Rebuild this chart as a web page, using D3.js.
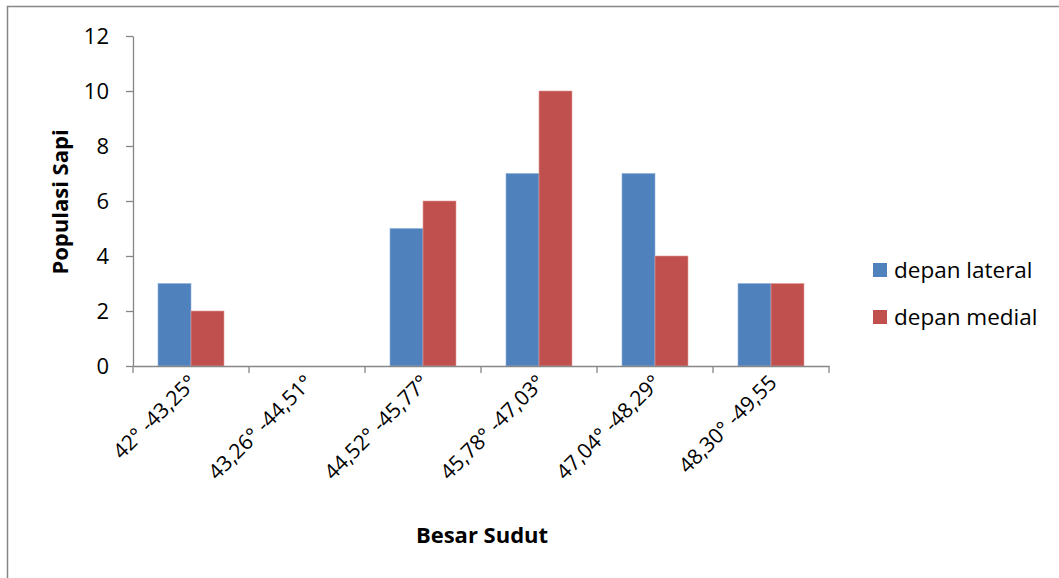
<!DOCTYPE html>
<html><head><meta charset="utf-8">
<script src="https://cdn.jsdelivr.net/npm/d3@7"></script>
<style>body{margin:0;background:#fff}svg{display:block}text{font-family:"Open Sans",Lato,sans-serif;fill:#000}</style>
</head><body>
<script>
const categories = ["42° -43,25°", "43,26° -44,51°", "44,52° -45,77°", "45,78° -47,03°", "47,04° -48,29°", "48,30° -49,55"];
const seriesNames = ["depan lateral", "depan medial"];
const lateral = [3, 0, 5, 7, 7, 3];
const medial = [2, 0, 6, 10, 4, 3];
const yTicks = [0, 2, 4, 6, 8, 10, 12];
const colors = ["#4F81BD", "#C0504D"];

(function(){
const W = 1059, H = 578;
const FONT = '"Open Sans",Lato,sans-serif';
const svg = d3.select("body").append("svg").attr("width", W).attr("height", H);
svg.append("rect").attr("x", 7.5).attr("y", 6.5).attr("width", W + 10).attr("height", H + 10)
  .attr("fill", "#fff").attr("stroke", "#868686").attr("stroke-width", 1.5);

const pL = 133, pR = 829, pT = 36, pB = 366;
const x = d3.scaleBand().domain(categories).range([pL, pR]).paddingInner(0).paddingOuter(0);
const y = d3.scaleLinear().domain([0, 12]).range([pB, pT]);
const inner = d3.scaleBand().domain(seriesNames).range([0, x.bandwidth() * 66 / 116]);
const off = x.bandwidth() * 25 / 116;

const data = categories.map((c, i) => ({c, vals: [lateral[i], medial[i]]}));
const g = svg.append("g");
data.forEach(d => {
  d.vals.forEach((v, j) => {
    if (v <= 0) return;
    g.append("rect")
      .attr("x", x(d.c) + off + inner(seriesNames[j]))
      .attr("y", y(v))
      .attr("width", inner.bandwidth())
      .attr("height", y(0) - y(v))
      .attr("fill", colors[j])
      .attr("stroke", j === 0 ? "#8fb1dc" : "#e39b99")
      .attr("stroke-width", 0.6);
  });
});

const yAxis = svg.append("g").attr("transform", `translate(${pL},0)`)
  .call(d3.axisLeft(y).tickValues(yTicks).tickSize(7).tickSizeOuter(0).tickPadding(17));
yAxis.selectAll("path,line").attr("stroke", "#868686").attr("stroke-width", 1.3);
yAxis.selectAll("text").attr("font-size", 22).style("font-family", FONT).attr("fill", "#000");

const xAxis = svg.append("g").attr("transform", `translate(0,${pB})`)
  .call(d3.axisBottom(x).tickSize(0).tickFormat(""));
xAxis.select("path").attr("stroke", "#868686").attr("stroke-width", 1.3);
const tickPos = categories.map(c => x(c)).concat([pR]);
svg.append("g").selectAll("line").data(tickPos).join("line")
  .attr("x1", d => d).attr("x2", d => d).attr("y1", pB).attr("y2", pB + 7)
  .attr("stroke", "#868686").attr("stroke-width", 1.3);
svg.append("g").selectAll("text").data(categories).join("text")
  .attr("transform", d => `translate(${x(d) + x.bandwidth() / 2 + 7},${pB + 18}) rotate(-45)`)
  .attr("text-anchor", "end").attr("font-size", 21).text(d => d);

svg.append("text").attr("transform", `translate(68,${(pT + pB) / 2 + 1}) rotate(-90)`)
  .attr("text-anchor", "middle").attr("font-size", 22).attr("font-weight", "bold").text("Populasi Sapi");
svg.append("text").attr("x", 482).attr("y", 543).attr("text-anchor", "middle")
  .attr("font-size", 22).attr("font-weight", "bold").text("Besar Sudut");

const lg = svg.append("g").attr("transform", "translate(873,263)");
seriesNames.forEach((s, i) => {
  lg.append("rect").attr("x", 0).attr("y", i * 47).attr("width", 14).attr("height", 14).attr("fill", colors[i]);
  lg.append("text").attr("x", 21).attr("y", i * 47 + 15).attr("font-size", 22.5).text(s);
});
})();
</script>
</body></html>
